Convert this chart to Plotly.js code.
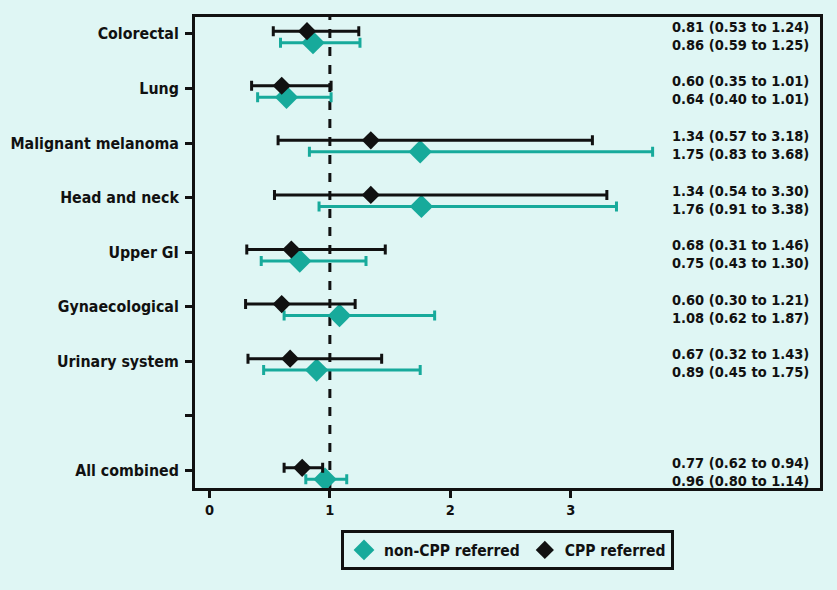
<!DOCTYPE html>
<html><head><meta charset="utf-8">
<script src="https://cdn.plot.ly/plotly-3.0.1.min.js"></script>
<style>body{margin:0;background:#dff6f4;}#c{width:837px;height:590px;}</style>
</head><body><div id="c"></div>
<script>
const categories = ["Colorectal","Lung","Malignant melanoma","Head and neck","Upper GI","Gynaecological","Urinary system","","All combined"];
const cppEst = [0.81,0.60,1.34,1.34,0.68,0.60,0.67,null,0.77];
const cppLo  = [0.53,0.35,0.57,0.54,0.31,0.30,0.32,null,0.62];
const cppHi  = [1.24,1.01,3.18,3.30,1.46,1.21,1.43,null,0.94];
const nonEst = [0.86,0.64,1.75,1.76,0.75,1.08,0.89,null,0.96];
const nonLo  = [0.59,0.40,0.83,0.91,0.43,0.62,0.45,null,0.80];
const nonHi  = [1.25,1.01,3.68,3.38,1.30,1.87,1.75,null,1.14];
const xTicks = [0,1,2,3];

const teal = "#17aa9b", black = "#111111";
const cppOff = -0.05, nonOff = 0.16;
const idx = categories.map((_, i) => i);
const fontFam = "'DejaVu Sans Condensed', 'DejaVu Sans', sans-serif";

function trace(name, est, lo, hi, off, color, size) {
  return {
    type: "scatter", mode: "markers", name: name,
    x: est, y: idx.map(i => i + off),
    error_x: {type: "data", symmetric: false,
      array: est.map((e, i) => e == null ? null : hi[i] - e),
      arrayminus: est.map((e, i) => e == null ? null : e - lo[i]),
      color: color, thickness: 3, width: 5},
    marker: {symbol: "diamond", size: size, color: color},
    hoverinfo: "x+y"
  };
}
const data = [
  trace("non-CPP referred", nonEst, nonLo, nonHi, nonOff, teal, 18),
  trace("CPP referred", cppEst, cppLo, cppHi, cppOff, black, 14)
];

const fmt = v => v.toFixed(2);
const annotations = [];
idx.forEach(i => {
  if (cppEst[i] == null) return;
  [[cppEst, cppLo, cppHi, -0.13], [nonEst, nonLo, nonHi, 0.2]].forEach(([e, l, h, off]) => {
    annotations.push({x: 1, xref: "paper", xanchor: "right", xshift: -9,
      y: i + off, yref: "y", yanchor: "middle", showarrow: false,
      text: `${fmt(e[i])} (${fmt(l[i])} to ${fmt(h[i])})`,
      font: {family: fontFam, size: 14.5, color: black, weight: 700}});
  });
});

const layout = {
  width: 837, height: 590,
  paper_bgcolor: "#dff6f4", plot_bgcolor: "#dff6f4",
  margin: {l: 195, r: 17, t: 17, b: 102},
  showlegend: true,
  legend: {orientation: "h", x: 0.5, xanchor: "center", y: -0.09, yanchor: "top",
    bordercolor: black, borderwidth: 3, bgcolor: "#dff6f4",
    font: {family: fontFam, size: 15.5, color: black, weight: 700}},
  xaxis: {range: [-0.12, 5.07], tickvals: xTicks, ticktext: xTicks.map(String),
    ticks: "outside", ticklen: 7, tickwidth: 3, tickcolor: black,
    showline: true, linewidth: 3, linecolor: black, mirror: true,
    showgrid: false, zeroline: false,
    tickfont: {family: fontFam, size: 14.5, color: black, weight: 700}},
  yaxis: {range: [8.32, -0.31], tickvals: idx, ticktext: categories,
    ticks: "outside", ticklen: 7, tickwidth: 3, tickcolor: black,
    showline: true, linewidth: 3, linecolor: black, mirror: true,
    showgrid: false, zeroline: false, ticklabelstandoff: 3,
    tickfont: {family: fontFam, size: 15.8, color: black, weight: 700}},
  shapes: [{type: "line", xref: "x", yref: "paper", x0: 1, x1: 1, y0: 0, y1: 1,
    line: {color: black, width: 3, dash: "dash"}, layer: "below"}],
  annotations: annotations
};
Plotly.newPlot("c", data, layout, {displayModeBar: false, staticPlot: true});
</script></body></html>
